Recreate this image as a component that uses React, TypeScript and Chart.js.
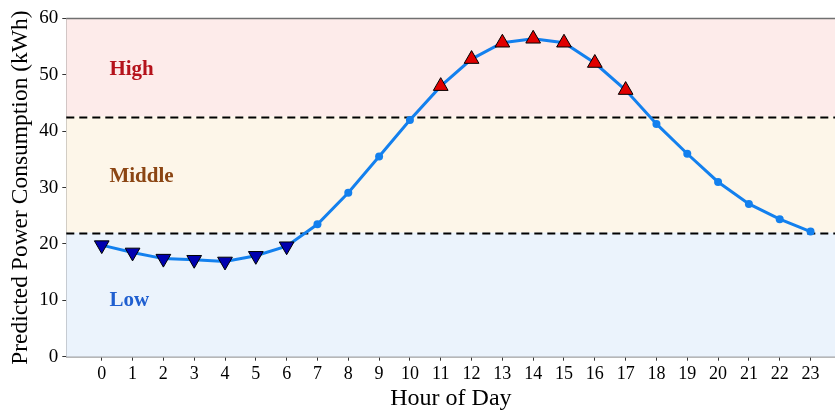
import React, { useEffect, useRef } from "react";
import { Chart, registerables } from "chart.js";

Chart.register(...registerables);

const hours = [0, 1, 2, 3, 4, 5, 6, 7, 8, 9, 10, 11, 12, 13, 14, 15, 16, 17, 18, 19, 20, 21, 22, 23];
const consumption = [19.8, 18.5, 17.4, 17.2, 16.9, 17.9, 19.6, 23.5, 29.1, 35.5, 42.0, 48.0, 52.8, 55.7, 56.4, 55.7, 52.1, 47.3, 41.3, 36.0, 31.0, 27.1, 24.4, 22.2];
const lowThreshold = 22.0;
const highThreshold = 42.6;
const yTicks = [0, 10, 20, 30, 40, 50, 60];
const bandNames = ["High", "Middle", "Low"];
const bandLabelValues = [51, 32, 10];
const bandTextColors = ["#b5121b", "#8b4513", "#1f5fd0"];
const bandFills = ["#fdebea", "#fdf6e9", "#ebf3fc"];

const SERIF = "'Liberation Serif', 'Times New Roman', serif";

const bandsPlugin = {
  id: "bands",
  beforeDatasetsDraw(chart: any) {
    const { ctx, chartArea } = chart;
    const y = chart.scales.y;
    const x = chart.scales.x;
    const bounds = [
      [highThreshold, y.max],
      [lowThreshold, highThreshold],
      [y.min, lowThreshold],
    ];
    ctx.save();
    bounds.forEach((b, i) => {
      const top = y.getPixelForValue(b[1]);
      const bot = y.getPixelForValue(b[0]);
      ctx.fillStyle = bandFills[i];
      ctx.fillRect(chartArea.left, top, chartArea.right - chartArea.left, bot - top);
    });
    ctx.font = `bold 21px ${SERIF}`;
    ctx.textAlign = "left";
    ctx.textBaseline = "middle";
    bandNames.forEach((n, i) => {
      ctx.fillStyle = bandTextColors[i];
      ctx.fillText(n, x.getPixelForValue(0.25), y.getPixelForValue(bandLabelValues[i]));
    });
    ctx.strokeStyle = "#000";
    ctx.lineWidth = 2;
    ctx.setLineDash([8, 5]);
    [highThreshold, lowThreshold].forEach((t) => {
      const py = Math.round(y.getPixelForValue(t)) + 0.5;
      ctx.beginPath();
      ctx.moveTo(chartArea.left, py);
      ctx.lineTo(chartArea.right, py);
      ctx.stroke();
    });
    ctx.setLineDash([]);
    ctx.strokeStyle = "#707070";
    ctx.lineWidth = 1.5;
    ctx.beginPath();
    ctx.moveTo(chartArea.left, chartArea.top);
    ctx.lineTo(chartArea.right, chartArea.top);
    ctx.stroke();
    ctx.restore();
  },
};

export default function App() {
  const ref = useRef<HTMLCanvasElement | null>(null);
  useEffect(() => {
    if (!ref.current) return;
    const cat = consumption.map((v) => (v > highThreshold ? "high" : v < lowThreshold ? "low" : "mid"));
    const chart = new Chart(ref.current, {
      type: "line",
      data: {
        datasets: [
          {
            data: hours.map((h, i) => ({ x: h, y: consumption[i] })),
            borderColor: "#1380ee",
            borderWidth: 3,
            tension: 0,
            pointStyle: cat.map((c) => (c === "mid" ? "circle" : "triangle")) as any,
            rotation: cat.map((c) => (c === "low" ? 180 : 0)),
            pointRadius: cat.map((c) => (c === "mid" ? 4 : 8.5)),
            pointBackgroundColor: cat.map((c) => (c === "high" ? "#e00000" : c === "low" ? "#0000b0" : "#1380ee")),
            pointBorderColor: cat.map((c) => (c === "mid" ? "#1380ee" : "#000")),
            pointBorderWidth: cat.map((c) => (c === "mid" ? 0 : 1)),
          },
        ],
      },
      options: {
        responsive: false,
        animation: false,
        layout: { padding: { top: 18.5, right: 0, left: 0, bottom: 0 } },
        plugins: { legend: { display: false }, tooltip: { enabled: false } },
        scales: {
          x: {
            type: "linear",
            min: -1.15,
            max: 23.81,
            afterBuildTicks: (s: any) => {
              s.ticks = hours.map((h) => ({ value: h }));
            },
            afterFit: (s: any) => {
              s.height = 59.3;
            },
            ticks: {
              color: "#000",
              font: { family: SERIF, size: 18 },
              padding: 3,
              maxRotation: 0,
              autoSkip: false,
              callback: (v: any) => String(v),
            },
            grid: { drawOnChartArea: false, drawTicks: true, tickLength: 4, color: "#333", lineWidth: 1 },
            border: { color: "#707070", width: 1.5 },
            title: {
              display: true,
              text: "Hour of Day",
              color: "#000",
              font: { family: SERIF, size: 24 },
              padding: { top: 0, bottom: 3 },
            },
          },
          y: {
            min: 0,
            max: 60,
            afterBuildTicks: (s: any) => {
              s.ticks = yTicks.map((v) => ({ value: v }));
            },
            afterFit: (s: any) => {
              s.width = 66.3;
            },
            ticks: {
              color: "#000",
              font: { family: SERIF, size: 19 },
              padding: 4,
            },
            grid: { drawOnChartArea: false, drawTicks: true, tickLength: 4, color: "#333", lineWidth: 1 },
            border: { color: "#707070", width: 1.5 },
            title: {
              display: true,
              text: "Predicted Power Consumption (kWh)",
              color: "#000",
              font: { family: SERIF, size: 23.5 },
              padding: { top: 7, bottom: 0 },
            },
          },
        },
      },
      plugins: [bandsPlugin],
    });
    return () => chart.destroy();
  }, []);
  return (
    <div style={{ position: "fixed", left: 0, top: 0, width: 835, height: 416, overflow: "hidden", background: "#fff" }}>
      <canvas ref={ref} width={845} height={416} style={{ display: "block" }} />
    </div>
  );
}
